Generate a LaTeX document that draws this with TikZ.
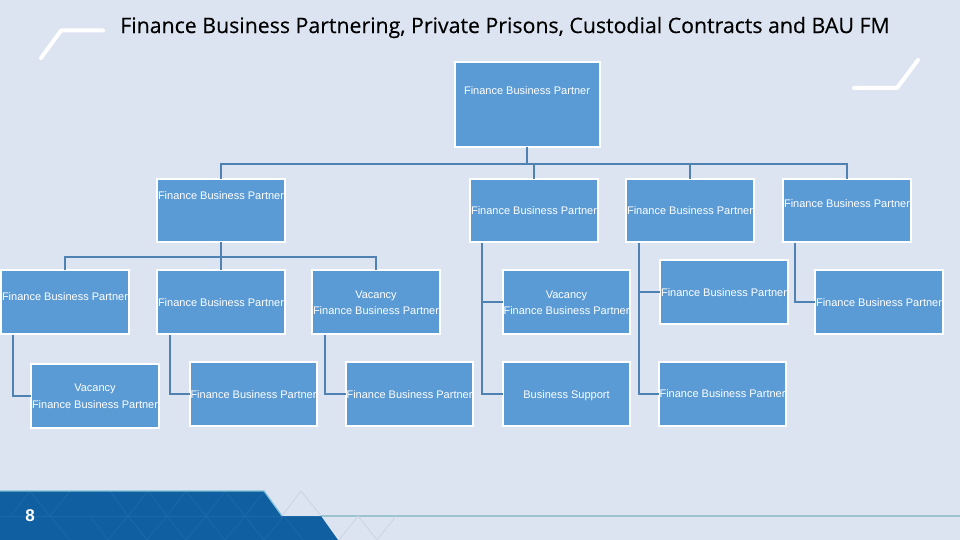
\documentclass[tikz,border=0pt]{standalone}
\usepackage{fontspec}
\setmainfont{Liberation Sans}
\newfontfamily\titlefont[FakeBold=0.35]{Open Sans}
\newcommand{\tl}[2]{\raisebox{\dimexpr #1pt-4pt\relax}[0pt][0pt]{\shortstack[c]{#2}}}
\newcommand{\fbp}{Finance Business Partner}
\tikzset{
  box/.style={rectangle,draw=white,line width=2pt,fill=boxblue,text=white,minimum width=127.5pt,minimum height=63.5pt,inner sep=0pt,outer sep=0pt,font=\fontsize{11}{13}\selectfont},
  conn/.style={draw=connblue,line width=2pt},
  tick/.style={draw=white,line width=4pt,line cap=round,line join=round},
  lattice/.style={draw=#1,line width=.8pt}
}
\definecolor{bgc}{HTML}{DCE4F1}
\definecolor{boxblue}{HTML}{5B9BD5}
\definecolor{connblue}{HTML}{4F81B3}
\definecolor{footblue}{HTML}{0F5FA1}
\definecolor{footline}{HTML}{7FBFD6}
\definecolor{rulec}{HTML}{9CC4CC}
\definecolor{latblue}{HTML}{1C69A8}
\definecolor{latlight}{HTML}{CCD3E2}
\begin{document}
\begin{tikzpicture}[x=1pt,y=-1pt]
\useasboundingbox (0,0) rectangle (960,540);
\fill[bgc] (0,0) rectangle (960,540);
% corner ticks
\draw[tick] (41,58) -- (61,30.5) -- (103,30.5);
\draw[tick] (854,88) -- (897,88) -- (918,60);
% footer
\draw[lattice=latlight] (282,516) -- (301,491) -- (321,516);
\draw[rulec,line width=1.5pt] (321,516) -- (960,516);
\draw[lattice=latlight] (339,540) -- (358,516) -- (377,540) -- (396,516);
\fill[footblue] (0,491) -- (264,491) -- (282,516) -- (321,516) -- (338,540) -- (0,540) -- cycle;
\begin{scope}
\clip (0,491) -- (264,491) -- (282,516) -- (321,516) -- (338,540) -- (0,540) -- cycle;
\draw[lattice=latblue] (0,516) -- (321,516);
\draw[lattice=latblue] (11,516) -- (30,491) -- (50,516) -- (70,491);
\draw[lattice=latblue] (110,491) -- (128,516) -- (148,491) -- (167,516) -- (186,491) -- (206,516) -- (225,491) -- (245,516) -- (265,491);
\draw[lattice=latblue] (50,516) -- (70,540);
\draw[lattice=latblue] (90,516) -- (108,540) -- (128,516) -- (147,540) -- (167,516) -- (186,540) -- (206,516) -- (225,540) -- (245,516) -- (264,540) -- (284,516) -- (303,540);
\end{scope}
\draw[footline,line width=1.2pt] (0,491) -- (264,491) -- (282,516);
\node[text=white,inner sep=0pt,font=\bfseries\fontsize{17}{19}\selectfont] (page) at (30,515.5) {8};
% title
\node[text=black,inner sep=0pt,font=\titlefont\fontsize{21.3}{25}\selectfont] (title) at (505,27.5) {Finance Business Partnering, Private Prisons, Custodial Contracts and BAU FM};
% boxes
\node[box,minimum width=145pt,minimum height=85.5pt] (root) at (527,104.5) {\tl{14}{\fbp}};
\node[box] (a) at (221,210.5) {\tl{15.5}{\fbp}};
\node[box] (b) at (534,210.5) {\tl{.5}{\fbp}};
\node[box] (c) at (690,210.5) {\tl{.5}{\fbp}};
\node[box] (d) at (847,210.5) {\tl{6.5}{\fbp}};
\node[box] (a1) at (65,302) {\tl{6}{\fbp}};
\node[box] (a2) at (221,302) {\tl{0}{\fbp}};
\node[box] (a3) at (376,302) {\tl{-8}{Vacancy\\[2pt]\fbp}};
\node[box] (b1) at (566.5,302) {\tl{-8}{Vacancy\\[2pt]\fbp}};
\node[box] (c1) at (724,292) {\tl{0}{\fbp}};
\node[box] (d1) at (879,302) {\tl{0}{\fbp}};
\node[box] (v) at (95,396) {\tl{-8}{Vacancy\\[3pt]\fbp}};
\node[box] (f) at (253.5,394) {\tl{0}{\fbp}};
\node[box] (g) at (409.5,394) {\tl{0}{\fbp}};
\node[box] (b2) at (566.5,394) {\tl{0}{Business Support}};
\node[box] (c2) at (722.5,394) {\tl{1}{\fbp}};
% connector guides
\coordinate (bus1) at (527,164);
\coordinate (bus2) at (221,257);
\coordinate (r1) at (13,335);
\coordinate (r2) at (170,335);
\coordinate (r3) at (325,335);
\coordinate (r4) at (482,243);
\coordinate (r5) at (639,243);
\coordinate (r6) at (795,243);
% connectors
\draw[conn] (root.south) -- (bus1);
\draw[conn] (a.north) |- (bus1);
\draw[conn] (b.north) |- (bus1);
\draw[conn] (c.north) |- (bus1);
\draw[conn] (d.north) |- (bus1);
\draw[conn] (a.south) -- (bus2);
\draw[conn] (a1.north) |- (bus2);
\draw[conn] (a2.north) |- (bus2);
\draw[conn] (a3.north) |- (bus2);
\draw[conn] (r1) |- (v.west);
\draw[conn] (r2) |- (f.west);
\draw[conn] (r3) |- (g.west);
\draw[conn] (r4) |- (b1.west);
\draw[conn] (r4) |- (b2.west);
\draw[conn] (r5) |- (c1.west);
\draw[conn] (r5) |- (c2.west);
\draw[conn] (r6) |- (d1.west);
\end{tikzpicture}
\end{document}
